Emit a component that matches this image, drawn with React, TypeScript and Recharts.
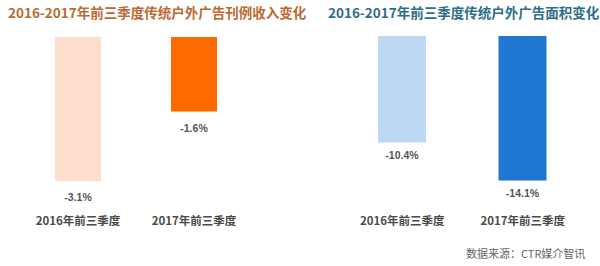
import React from "react";
import { BarChart, Bar, XAxis, YAxis, Cell, LabelList } from "recharts";

const categories = ["2016年前三季度", "2017年前三季度"];
const revenueChange = [-3.1, -1.6];
const areaChange = [-10.4, -14.1];
const revenueColors = ["#FDDDCB", "#FF6A00"];
const areaColors = ["#BCD8F2", "#1F76D3"];

const revenueData = categories.map((name, i) => ({ name, value: revenueChange[i] }));
const areaData = categories.map((name, i) => ({ name, value: areaChange[i] }));

const FONT = '"Noto Sans CJK SC", "Noto Sans", sans-serif';

function CategoryTick(props: any) {
  const { x, y, payload } = props;
  return (
    <text
      x={x}
      y={y + 20}
      textAnchor="middle"
      dominantBaseline="central"
      fontFamily={FONT}
      fontSize={11.5}
      fontWeight={700}
      fill="#4a4a4a"
    >
      {payload.value}
    </text>
  );
}

// value label sits just below the bottom of the (negative) bar
function makeValueLabel(gap: number) {
  return function ValueLabel(props: any) {
    const { x, y, width, height, value } = props;
    const bottom = Math.max(y, y + height);
    return (
      <text
        x={x + width / 2}
        y={bottom + gap}
        textAnchor="middle"
        dominantBaseline="central"
        fontFamily='"Liberation Sans", Arial, sans-serif'
        fontSize={10.5}
        fontWeight={700}
        fill="#555"
      >
        {value.toFixed(1)}%
      </text>
    );
  };
}

export default function App() {
  return (
    <div
      style={{
        position: "absolute",
        left: 0,
        top: 0,
        width: 600,
        height: 266,
        background: "#fff",
        overflow: "hidden",
        fontFamily: FONT,
      }}
    >
      <div
        style={{
          position: "absolute",
          left: 8,
          top: 3,
          fontSize: 13.5,
          lineHeight: "18px",
          fontWeight: 700,
          color: "#BC6A33",
          whiteSpace: "nowrap",
        }}
      >
        2016-2017年前三季度传统户外广告刊例收入变化
      </div>
      <div
        style={{
          position: "absolute",
          left: 328,
          top: 3,
          fontSize: 13.5,
          lineHeight: "18px",
          fontWeight: 700,
          color: "#2E6E87",
          whiteSpace: "nowrap",
        }}
      >
        2016-2017年前三季度传统户外广告面积变化
      </div>

      <div style={{ position: "absolute", left: 0, top: 0 }}>
        <BarChart
          width={300}
          height={266}
          data={revenueData}
          margin={{ top: 37, right: 48, bottom: 0, left: 20 }}
        >
          <XAxis
            dataKey="name"
            axisLine={false}
            tickLine={false}
            tickSize={0}
            tickMargin={0}
            height={66}
            tick={<CategoryTick />}
            interval={0}
          />
          <YAxis hide domain={[-3.5, 0]} />
          <Bar dataKey="value" barSize={46} isAnimationActive={false}>
            {revenueData.map((d, i) => (
              <Cell key={d.name} fill={revenueColors[i]} />
            ))}
            <LabelList dataKey="value" content={makeValueLabel(16)} />
          </Bar>
        </BarChart>
      </div>

      <div style={{ position: "absolute", left: 300, top: 0 }}>
        <BarChart
          width={300}
          height={266}
          data={areaData}
          margin={{ top: 36, right: 17, bottom: 0, left: 42 }}
        >
          <XAxis
            dataKey="name"
            axisLine={false}
            tickLine={false}
            tickSize={0}
            tickMargin={0}
            height={66}
            tick={<CategoryTick />}
            interval={0}
          />
          <YAxis hide domain={[-16, 0]} />
          <Bar dataKey="value" barSize={48} isAnimationActive={false}>
            {areaData.map((d, i) => (
              <Cell key={d.name} fill={areaColors[i]} />
            ))}
            <LabelList dataKey="value" content={makeValueLabel(12)} />
          </Bar>
        </BarChart>
      </div>

      <div
        style={{
          position: "absolute",
          left: 466,
          top: 245,
          fontSize: 11,
          lineHeight: "16px",
          color: "#666",
          whiteSpace: "nowrap",
        }}
      >
        数据来源：CTR媒介智讯
      </div>
    </div>
  );
}
